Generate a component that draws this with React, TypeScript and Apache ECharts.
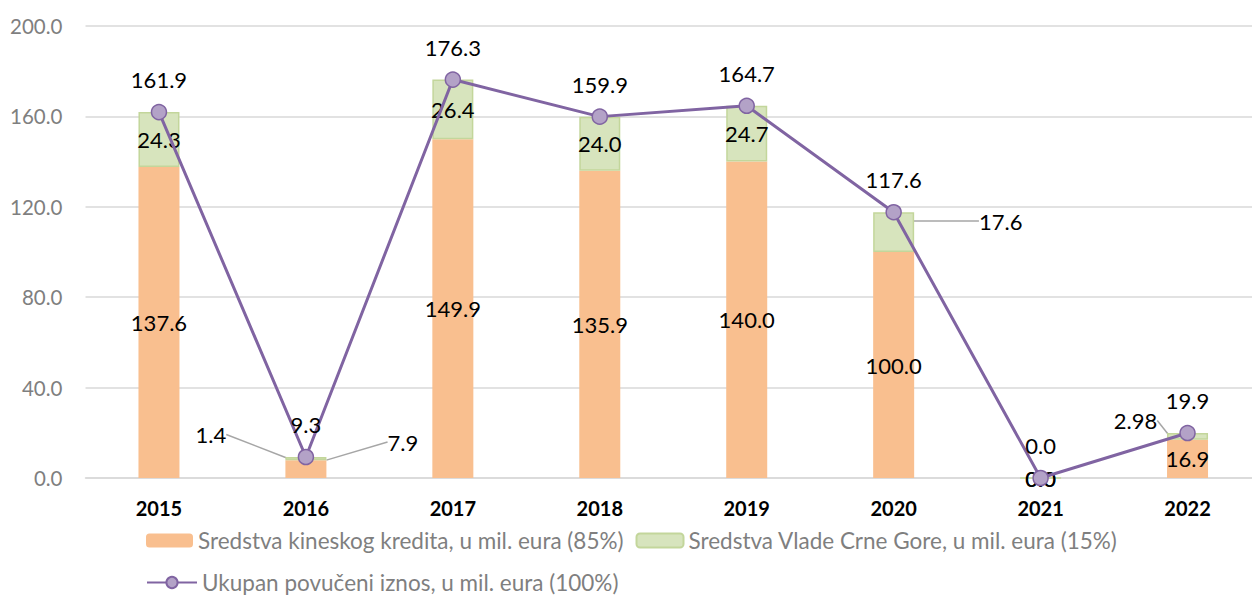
import React, { useEffect, useRef } from "react";
import * as echarts from "echarts";

const years = ["2015", "2016", "2017", "2018", "2019", "2020", "2021", "2022"];
const chinaLoan = [137.6, 7.9, 149.9, 135.9, 140.0, 100.0, 0.0, 16.9];
const govFunds = [24.3, 1.4, 26.4, 24.0, 24.7, 17.6, 0.0, 2.98];
const totalDrawn = [161.9, 9.3, 176.3, 159.9, 164.7, 117.6, 0.0, 19.9];

const nameChina = "Sredstva kineskog kredita, u mil. eura (85%)";
const nameGov = "Sredstva Vlade Crne Gore, u mil. eura (15%)";
const nameTotal = "Ukupan povučeni iznos, u mil. eura (100%)";

// label offsets for moved labels (index -> [dx, dy])
const chinaMoved: Record<number, [number, number]> = { 1: [97, -27] };
const govMoved: Record<number, [number, number]> = { 1: [-95, -24], 5: [107, -11], 7: [-52, -16] };

const FONT = "Lato, 'Noto Sans', sans-serif";

const fmt = (v: number) =>
  Math.abs(v * 10 - Math.round(v * 10)) < 1e-9 ? v.toFixed(1) : String(v);

export default function App() {
  const ref = useRef<HTMLDivElement>(null);
  useEffect(() => {
    if (!ref.current) return;
    const chart = echarts.init(ref.current, null, { renderer: "svg" });
    const labelStyle = { color: "#000", fontSize: 22, fontFamily: FONT };
    const mkData = (arr: number[], moved: Record<number, [number, number]>) =>
      arr.map((v, i) =>
        moved[i]
          ? { value: v, labelLine: { show: true, lineStyle: { color: "#a6a6a6", width: 1.5 } } }
          : { value: v }
      );
    chart.setOption({
      animation: false,
      textStyle: { fontFamily: FONT },
      grid: { left: 85.5, right: 0, top: 26, bottom: 119, containLabel: false },
      legend: [
        {
          data: [nameChina, nameGov],
          left: 141,
          top: 524,
          width: 1100,
          itemWidth: 47,
          itemHeight: 14,
          itemGap: 12,
          textStyle: { color: "#7f7f7f", fontSize: 22.5, fontFamily: FONT },
        },
        {
          data: [nameTotal],
          left: 141,
          top: 566,
          itemWidth: 50,
          itemHeight: 14,
          textStyle: { color: "#7f7f7f", fontSize: 22.5, fontFamily: FONT },
        },
      ],
      xAxis: {
        type: "category",
        data: years,
        axisLine: { show: true, lineStyle: { color: "#d9d9d9", width: 1.5 } },
        axisTick: { show: false },
        axisLabel: { color: "#000", fontWeight: "bold", fontSize: 20, margin: 20, fontFamily: FONT },
      },
      yAxis: {
        type: "value",
        min: 0,
        max: 200,
        interval: 40,
        axisLine: { show: false },
        axisTick: { show: false },
        splitLine: { lineStyle: { color: "#d9d9d9", width: 1.5 } },
        axisLabel: {
          color: "#7f7f7f",
          fontSize: 20.5,
          margin: 23,
          fontFamily: FONT,
          formatter: (v: number) => v.toFixed(1),
        },
      },
      series: [
        {
          name: nameChina,
          type: "bar",
          stack: "a",
          barWidth: 41,
          data: mkData(chinaLoan, chinaMoved),
          itemStyle: { color: "#F9BF8F" },
          label: { show: true, position: "inside", ...labelStyle, formatter: (p: any) => fmt(p.value) },
          labelLayout: (p: any) => {
            const m = chinaMoved[p.dataIndex];
            return m ? { dx: m[0], dy: m[1] } : {};
          },
        },
        {
          name: nameGov,
          type: "bar",
          stack: "a",
          barWidth: 41,
          data: mkData(govFunds, govMoved),
          itemStyle: { color: "#D7E4BD", borderColor: "#C3D69B", borderWidth: 1.5 },
          label: { show: true, position: "inside", ...labelStyle, formatter: (p: any) => fmt(p.value) },
          labelLayout: (p: any) => {
            const m = govMoved[p.dataIndex];
            return m ? { dx: m[0], dy: m[1] } : {};
          },
        },
        {
          name: nameTotal,
          type: "line",
          data: totalDrawn,
          symbol: "circle",
          symbolSize: 15,
          lineStyle: { color: "#8064A2", width: 3 },
          itemStyle: { color: "#B3A2C7", borderColor: "#8064A2", borderWidth: 1.5 },
          label: {
            show: true,
            position: "top",
            distance: 13,
            ...labelStyle,
            formatter: (p: any) => fmt(p.value),
          },
          z: 5,
        },
      ],
    });
    return () => chart.dispose();
  }, []);
  return (
    <div style={{ position: "fixed", left: 0, top: 0, width: "1252px", height: "597px", overflow: "hidden", background: "#fff" }}>
      <div ref={ref} style={{ width: "1261px", height: "597px" }} />
    </div>
  );
}
